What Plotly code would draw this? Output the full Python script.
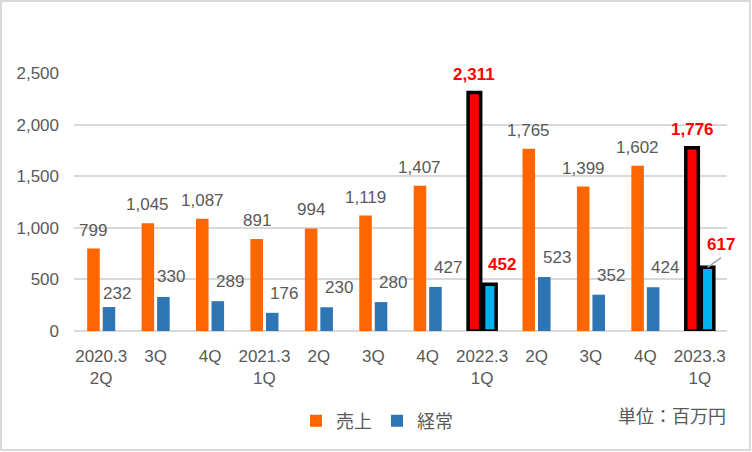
import plotly.graph_objects as go

# ---- data ----
periods = ["2020.3 2Q", "2020.3 3Q", "2020.3 4Q", "2021.3 1Q", "2021.3 2Q", "2021.3 3Q",
           "2021.3 4Q", "2022.3 1Q", "2022.3 2Q", "2022.3 3Q", "2022.3 4Q", "2023.3 1Q"]
tick_labels = ["2020.3<br>2Q", "3Q", "4Q", "2021.3<br>1Q", "2Q", "3Q",
               "4Q", "2022.3<br>1Q", "2Q", "3Q", "4Q", "2023.3<br>1Q"]
sales = [799, 1045, 1087, 891, 994, 1119, 1407, 2311, 1765, 1399, 1602, 1776]
ordinary = [232, 330, 289, 176, 230, 280, 427, 452, 523, 352, 424, 617]
highlighted = ["2022.3 1Q", "2023.3 1Q"]
series_names = ["売上", "経常"]
unit_label = "単位：百万円"

# ---- style ----
ORANGE, BLUE, RED, CYAN = "#FF6600", "#2E75B6", "#FF0000", "#00B0F0"
GRAY_TXT = "#595959"
GRID = "#D9D9D9"
FONT = "Liberation Sans, Noto Sans CJK JP, sans-serif"
NUM_SIZE = 17

is_hl = [p in highlighted for p in periods]
sales_colors = [RED if h else ORANGE for h in is_hl]
ord_colors = [CYAN if h else BLUE for h in is_hl]
line_w = [3.5 if h else 0 for h in is_hl]

fig = go.Figure()
fig.add_trace(go.Bar(x=periods, y=sales, name=series_names[0],
                     marker=dict(color=sales_colors, line=dict(color="black", width=line_w)),
                     cliponaxis=False))
fig.add_trace(go.Bar(x=periods, y=ordinary, name=series_names[1],
                     marker=dict(color=ord_colors, line=dict(color="black", width=line_w)),
                     cliponaxis=False))

# data labels
BAR_OFF = 7.75
annos = []
for p, v, h in zip(periods, sales, is_hl):
    annos.append(dict(x=p, y=v, text=(f"<b>{v:,}</b>" if h else f"{v:,}"), showarrow=False,
                      xshift=-BAR_OFF, yshift=18.5,
                      font=dict(size=NUM_SIZE, color=RED if h else GRAY_TXT, family=FONT)))
blue_override = {0: (16, 13.5), 1: (15, 20)}
for i, (p, v, h) in enumerate(zip(periods, ordinary, is_hl)):
    xs, ys = blue_override.get(i, (20, 19.5))
    if h and i == len(periods) - 1:
        xs, ys = 21.5, 23
        # leader line
        annos.append(dict(x=p, y=v, xshift=BAR_OFF, text=" ", showarrow=True, arrowhead=0,
                          arrowwidth=1.5, arrowcolor="#A6A6A6", ax=14, ay=-10,
                          font=dict(size=1), borderpad=0, standoff=0))
    annos.append(dict(x=p, y=v, text=(f"<b>{v:,}</b>" if h else f"{v:,}"), showarrow=False,
                      xshift=xs, yshift=ys,
                      font=dict(size=NUM_SIZE, color=RED if h else GRAY_TXT, family=FONT)))

L, R, T, B = 74, 25, 73, 121
W, H = 752, 452
pw, ph = W - L - R, H - T - B

annos.append(dict(xref="paper", yref="paper", x=(728 - L) / pw, y=(331 - 417) / ph,
                  xanchor="right", yanchor="middle", text=unit_label, showarrow=False,
                  font=dict(size=18, color=GRAY_TXT, family=FONT)))

fig.update_layout(
    width=W, height=H,
    margin=dict(l=L, r=R, t=T, b=B, autoexpand=False),
    paper_bgcolor="white", plot_bgcolor="white",
    barmode="group", bargap=0.43, bargroupgap=0.19,
    font=dict(family=FONT, size=NUM_SIZE, color=GRAY_TXT),
    showlegend=True,
    legend=dict(orientation="h", xanchor="center", x=(377 - L) / pw, yanchor="middle",
                y=(331 - 421) / ph, font=dict(size=18, color=GRAY_TXT, family=FONT),
                itemclick=False, bgcolor="rgba(0,0,0,0)"),
    annotations=annos,
    shapes=[dict(type="rect", xref="paper", yref="paper",
                 x0=(1 - L) / pw, x1=(750 - L) / pw, y0=(331 - 450) / ph, y1=(331 - 1) / ph,
                 line=dict(color=GRID, width=2), fillcolor="rgba(0,0,0,0)", layer="below")],
)
fig.update_xaxes(type="category", tickvals=periods, ticktext=tick_labels,
                 range=[-0.5, len(periods) - 0.5],
                 showgrid=False, showline=False, ticks="", ticklabelstandoff=13,
                 tickfont=dict(size=NUM_SIZE, color=GRAY_TXT, family=FONT))
fig.update_yaxes(range=[0, 2500], tickvals=[0, 500, 1000, 1500, 2000, 2500], tickformat=",",
                 showgrid=True, gridcolor=GRID, gridwidth=1.5, zeroline=True, zerolinecolor=GRID,
                 zerolinewidth=1.5, showline=False, ticks="", ticklabelstandoff=14,
                 tickfont=dict(size=NUM_SIZE, color=GRAY_TXT, family=FONT))

fig.write_html("out.html", config={"displayModeBar": False},
               post_script="document.body.style.margin='0px';document.body.style.overflow='hidden';")
